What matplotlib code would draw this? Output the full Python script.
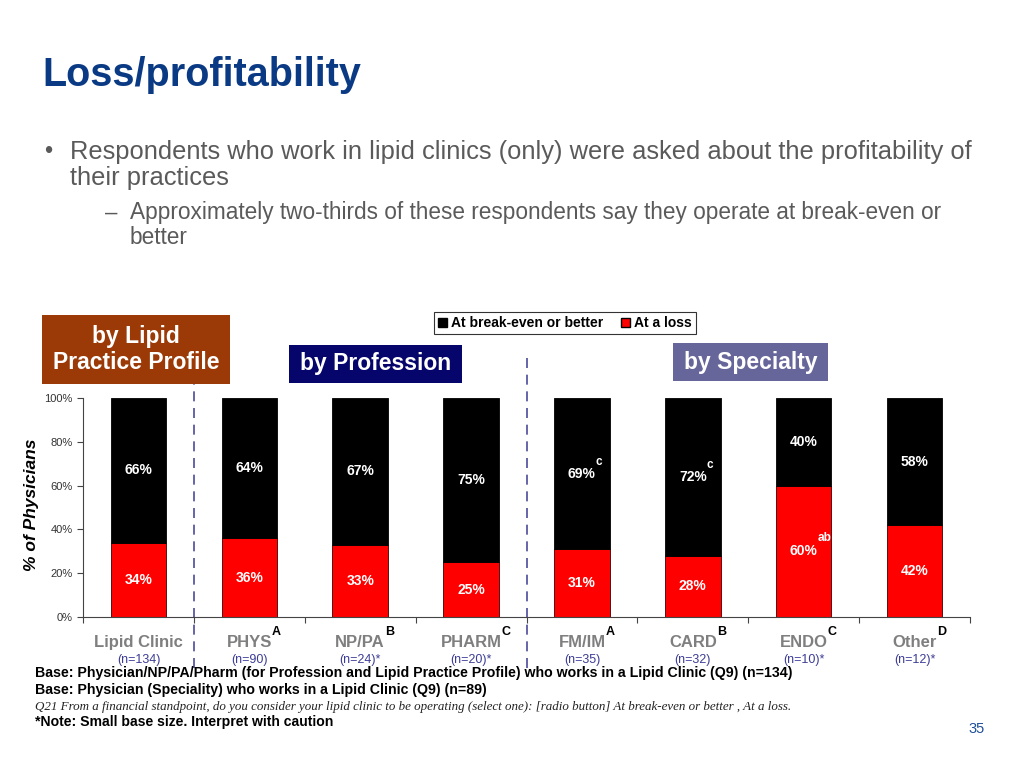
import matplotlib
matplotlib.use("Agg")
import matplotlib.pyplot as plt
import numpy as np
from matplotlib.patches import Rectangle, Patch

plt.rcParams['font.family'] = ['Liberation Sans', 'DejaVu Sans']

# ---- data ----
categories = ["Lipid Clinic", "PHYS", "NP/PA", "PHARM", "FM/IM", "CARD", "ENDO", "Other"]
cat_sup = ["", "A", "B", "C", "A", "B", "C", "D"]
base_n = ["(n=134)", "(n=90)", "(n=24)*", "(n=20)*", "(n=35)", "(n=32)", "(n=10)*", "(n=12)*"]
at_loss = [34, 36, 33, 25, 31, 28, 60, 42]
break_even = [66, 64, 67, 75, 69, 72, 40, 58]
loss_sup = ["", "", "", "", "", "", "ab", ""]
even_sup = ["", "", "", "", "c", "c", "", ""]
yticks = [0, 20, 40, 60, 80, 100]

W, H = 1024, 768
def fx(px): return px / W
def fy(py): return 1 - py / H

fig = plt.figure(figsize=(10.24, 7.68), dpi=100)
ax = fig.add_axes([fx(83), fy(617), fx(970) - fx(83), fy(398) - fy(617)])

x = np.arange(len(categories))
RED = '#ff0000'
ax.bar(x, at_loss, width=0.5, color=RED, edgecolor='#3a0000', linewidth=0.6, zorder=2)
ax.bar(x, break_even, width=0.5, bottom=at_loss, color='black', edgecolor='black', linewidth=0.6, zorder=2)

ax.set_xlim(-0.5, len(categories) - 0.5)
ax.set_ylim(0, 100)
ax.set_yticks(yticks)
ax.set_yticklabels([f"{v}%" for v in yticks], fontsize=8, color='#333333')
ax.set_xticks(np.arange(-0.5, len(categories), 1))
ax.set_xticklabels([])
ax.tick_params(axis='both', direction='out', length=4, width=0.8, color='#444444')
for s in ['top', 'right']:
    ax.spines[s].set_visible(False)
for s in ['left', 'bottom']:
    ax.spines[s].set_color('#444444')
    ax.spines[s].set_linewidth(0.8)

# value labels
for i in range(len(categories)):
    t1 = ax.text(x[i], at_loss[i] / 2, f"{at_loss[i]}%", ha='center', va='center',
                 color='white', fontsize=10, fontweight='bold', zorder=3)
    if loss_sup[i]:
        ax.annotate(loss_sup[i], xy=(1.0, 1.0), xycoords=t1, ha='left', va='bottom',
                    color='white', fontsize=8.5, fontweight='bold', zorder=3)
    t2 = ax.text(x[i], at_loss[i] + break_even[i] / 2, f"{break_even[i]}%", ha='center',
                 va='center', color='white', fontsize=10, fontweight='bold', zorder=3)
    if even_sup[i]:
        ax.annotate(even_sup[i], xy=(1.0, 0.9), xycoords=t2, ha='left', va='bottom',
                    color='white', fontsize=8.5, fontweight='bold', zorder=3)

# category labels
trans = ax.get_xaxis_transform()
for i in range(len(categories)):
    t = ax.text(x[i], -0.115, categories[i], transform=trans, ha='center', va='center',
                color='#7f7f7f', fontsize=12, fontweight='bold')
    if cat_sup[i]:
        ax.annotate(cat_sup[i], xy=(1.0, 0.75), xycoords=t, ha='left', va='bottom',
                    color='black', fontsize=9, fontweight='bold')
    ax.text(x[i], -0.198, base_n[i], transform=trans, ha='center', va='center',
            color='#3c3c96', fontsize=9)

# dashed separators
for xs in [0.5, 3.5]:
    ax.axvline(xs, ymin=-0.233, ymax=1.21, clip_on=False, color='#4a4a9a',
               linestyle=(0, (6, 4)), linewidth=1.2, zorder=1)

# y-axis label
fig.text(fx(32), fy(505), "% of Physicians", rotation=90, ha='center', va='center',
         fontsize=12.5, fontweight='bold', fontstyle='italic', color='black')

# legend
handles = [Patch(facecolor='black', edgecolor='black', label='At break-even or better'),
           Patch(facecolor=RED, edgecolor='black', label='At a loss')]
leg = fig.legend(handles=handles, loc='center', bbox_to_anchor=(fx(565), fy(323)), ncol=2,
                 frameon=True, fancybox=False, edgecolor='black',
                 prop={'weight': 'bold', 'size': 10}, handlelength=0.6, handleheight=0.6,
                 handletextpad=0.3, columnspacing=1.3, borderpad=0.3)
leg.get_frame().set_linewidth(0.8)

# section boxes
def box(x0, y0, x1, y1, color, text, fs=16.5):
    r = Rectangle((fx(x0), fy(y1)), fx(x1) - fx(x0), fy(y0) - fy(y1), transform=fig.transFigure,
                  facecolor=color, edgecolor='none', zorder=5)
    fig.patches.append(r)
    fig.text(fx((x0 + x1) / 2), fy((y0 + y1) / 2), text, ha='center', va='center', color='white',
             fontsize=fs, fontweight='bold', zorder=6, linespacing=1.15)

box(42, 315, 230, 384, '#9b3a06', "by Lipid\nPractice Profile")
box(289, 345, 462, 383, '#05056b', "by Profession")
box(673, 343, 828, 381, '#66669a', "by Specialty")

# title & bullets
fig.text(fx(42), fy(75), "Loss/profitability", ha='left', va='center', fontsize=28.5,
         fontweight='bold', color='#0b3a84')
gray = '#5a5a5a'
fig.text(fx(44), fy(152), "•", ha='left', va='center', fontsize=17, color=gray)
fig.text(fx(70), fy(152), "Respondents who work in lipid clinics (only) were asked about the profitability of",
         ha='left', va='center', fontsize=18.4, color=gray)
fig.text(fx(70), fy(178), "their practices", ha='left', va='center', fontsize=18.4, color=gray)
fig.text(fx(105), fy(213), "–", ha='left', va='center', fontsize=16, color=gray)
fig.text(fx(130), fy(213), "Approximately two-thirds of these respondents say they operate at break-even or",
         ha='left', va='center', fontsize=16.3, color=gray)
fig.text(fx(130), fy(237), "better", ha='left', va='center', fontsize=16.3, color=gray)

# footer
fig.text(fx(35), fy(673), "Base: Physician/NP/PA/Pharm (for Profession and Lipid Practice Profile) who works in a Lipid Clinic (Q9) (n=134)",
         ha='left', va='center', fontsize=10.2, fontweight='bold', color='black')
fig.text(fx(35), fy(690), "Base: Physician (Speciality) who works in a Lipid Clinic (Q9) (n=89)",
         ha='left', va='center', fontsize=10.2, fontweight='bold', color='black')
fig.text(fx(35), fy(707), "Q21 From a financial standpoint, do you consider your lipid clinic to be operating (select one): [radio button] At break-even or better , At a loss.",
         ha='left', va='center', fontsize=9.4, fontstyle='italic', family='Liberation Serif', color='#222222')
fig.text(fx(35), fy(722), "*Note: Small base size. Interpret with caution",
         ha='left', va='center', fontsize=10.1, fontweight='bold', color='black')
fig.text(fx(985), fy(729), "35", ha='right', va='center', fontsize=10.5, color='#1f4e9a')

fig.savefig("out.png", dpi=100)
